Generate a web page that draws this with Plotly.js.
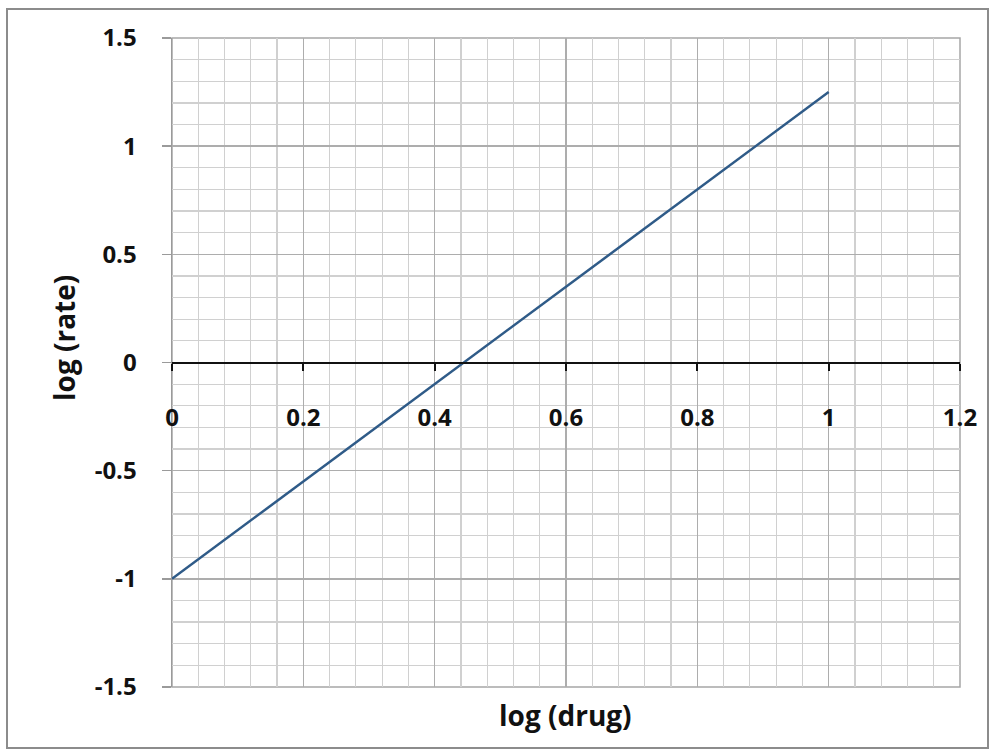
<!DOCTYPE html>
<html>
<head>
<meta charset="utf-8">
<script src="https://cdn.plot.ly/plotly-3.0.1.min.js"></script>
<style>
  html, body { margin: 0; padding: 0; background: #fff; }
  #chart { width: 991px; height: 751px; }
</style>
</head>
<body>
<div id="chart"></div>
<script>
// log(drug) vs log(rate): straight-line relationship
const logDrug = [0, 1];
const logRate = [-1, 1.25];

const xTicks = [0, 0.2, 0.4, 0.6, 0.8, 1, 1.2];
const xTickLabels = ['0', '0.2', '0.4', '0.6', '0.8', '1', '1.2'];
const yTicks = [-1.5, -1, -0.5, 0, 0.5, 1, 1.5];
const yTickLabels = ['-1.5', '-1', '-0.5', '0', '0.5', '1', '1.5'];

const font = '"Open Sans", "Liberation Sans", sans-serif';

const W = 991, H = 751;
const M = { l: 172, r: 31, t: 38, b: 64 };
const pw = W - M.l - M.r, ph = H - M.t - M.b;
const px = v => (v - M.l) / pw;
const py = v => (H - M.b - v) / ph;

const trace = {
  x: logDrug,
  y: logRate,
  type: 'scatter',
  mode: 'lines',
  line: { color: '#2f5b88', width: 2.5 },
  hoverinfo: 'x+y'
};

const tickFont = { family: font, size: 24, color: '#111', weight: 'bold' };
const titleFont = { family: font, size: 28, color: '#111', weight: 'bold' };

const layout = {
  width: W,
  height: H,
  margin: M,
  paper_bgcolor: '#ffffff',
  plot_bgcolor: '#ffffff',
  showlegend: false,
  font: { family: font, color: '#000' },
  xaxis: {
    range: [0, 1.2],
    anchor: 'free',
    position: 0.5,
    tickmode: 'array',
    tickvals: xTicks,
    ticktext: xTickLabels,
    tickfont: tickFont,
    ticks: 'outside',
    ticklen: 7,
    tickwidth: 2,
    tickcolor: '#111',
    ticklabelstandoff: 27,
    showline: true,
    linecolor: '#111',
    linewidth: 2,
    zeroline: false,
    showgrid: true,
    gridcolor: '#adadad',
    gridwidth: 1.5,
    minor: { dtick: 0.04, showgrid: true, gridcolor: '#d0d0d0', gridwidth: 1.2 },
    fixedrange: true
  },
  yaxis: {
    range: [-1.5, 1.5],
    tickmode: 'array',
    tickvals: yTicks,
    ticktext: yTickLabels,
    tickfont: tickFont,
    ticks: 'outside',
    ticklen: 9,
    tickwidth: 1.5,
    tickcolor: '#9a9a9a',
    ticklabelstandoff: 20,
    showline: true,
    linecolor: '#9a9a9a',
    linewidth: 1.5,
    zeroline: false,
    showgrid: true,
    gridcolor: '#adadad',
    gridwidth: 1.5,
    minor: { dtick: 0.1, showgrid: true, gridcolor: '#d0d0d0', gridwidth: 1.2 },
    fixedrange: true
  },
  annotations: [
    {
      text: 'log (drug)', xref: 'paper', yref: 'paper',
      x: px(565), y: py(715), xanchor: 'center', yanchor: 'middle',
      showarrow: false, font: titleFont
    },
    {
      text: 'log (rate)', xref: 'paper', yref: 'paper',
      x: px(64), y: py(338), xanchor: 'center', yanchor: 'middle',
      textangle: -90, showarrow: false, font: titleFont
    }
  ],
  shapes: [
    // plot frame
    { type: 'rect', xref: 'paper', yref: 'paper', x0: 0, x1: 1, y0: 0, y1: 1,
      line: { color: '#a6a6a6', width: 1.5 }, layer: 'below' },
    // outer border of the figure
    { type: 'rect', xref: 'paper', yref: 'paper',
      x0: px(7), x1: px(988), y0: py(748), y1: py(9),
      line: { color: '#8c8c8c', width: 2 } }
  ]
};

Plotly.newPlot('chart', [trace], layout, { displayModeBar: false, staticPlot: true });
</script>
</body>
</html>
